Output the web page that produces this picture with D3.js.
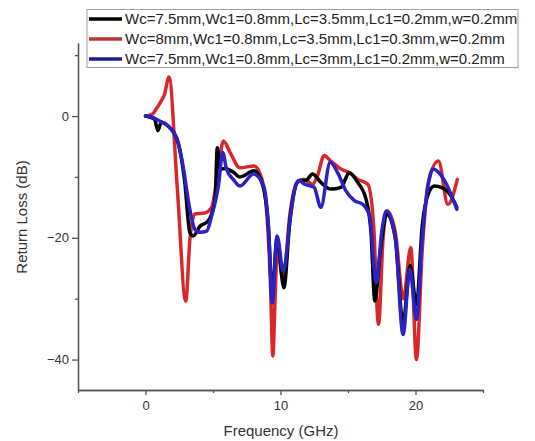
<!doctype html>
<html lang="en">
	<head>
		<meta charset="utf-8">
		<title>Return Loss</title>
		<style type="text/css">
			body {
				margin: 0;
				background-color: white;
				font-family: "Liberation Sans", Arial, Helvetica, sans-serif;
			}
			svg {
				background-color: white;
				display: block;
			}
			path.line {
				fill: none;
				stroke-width: 3.5px;
				stroke-linejoin: round;
				stroke-linecap: round;
			}
			.axis path,
			.axis line {
				fill: none;
				stroke: #555555;
				stroke-width: 1.3px;
			}
			.axis text {
				font-family: "Liberation Sans", Arial, sans-serif;
				font-size: 13px;
				fill: #333333;
			}
			.title {
				font-size: 15px;
				fill: #333333;
			}
			.legend text {
				font-size: 15px;
				fill: #222222;
			}
		</style>
	</head>
	<body>
		<script type="text/javascript" src="https://cdnjs.cloudflare.com/ajax/libs/d3/7.8.5/d3.min.js"></script>
		<script type="text/javascript">
			// series labels
			var labels = [
				"Wc=7.5mm,Wc1=0.8mm,Lc=3.5mm,Lc1=0.2mm,w=0.2mm",
				"Wc=8mm,Wc1=0.8mm,Lc=3.5mm,Lc1=0.3mm,w=0.2mm",
				"Wc=7.5mm,Wc1=0.8mm,Lc=3mm,Lc1=0.2mm,w=0.2mm"
			];

			// black: Wc=7.5mm, Lc=3.5mm
			var blackFreq = [0, 0.67, 0.92, 1.17, 1.79, 2.41, 2.91, 3.28, 3.53, 4.03, 4.65, 5.15, 5.32, 5.52, 5.9, 6.5, 7.0, 8.05, 8.7, 9.1, 9.38, 9.75, 10.25, 10.7, 11.37, 11.87, 12.37, 12.99, 13.73, 14.48, 15.1, 15.72, 16.34, 16.7, 16.99, 17.4, 17.9, 18.5, 19.08, 19.6, 20.07, 20.5, 21.0, 21.4, 22.0, 22.6, 23.06];
			var blackLoss = [0, -0.5, -2.4, -1.0, -1.9, -4.3, -10.9, -19.1, -19.7, -18.1, -17.2, -13.7, -5.2, -8.7, -8.6, -9.2, -10.0, -9.0, -11.5, -18, -29, -20, -28.2, -17, -10.6, -10.6, -9.5, -10.9, -12.0, -11.7, -9.3, -10.9, -13.7, -19, -30.4, -22, -16.2, -20, -34, -24.5, -31, -18, -12.5, -11.5, -11.8, -13, -15];

			// red: Wc=8mm, Lc1=0.3mm
			var redFreq = [0, 0.5, 0.8, 1.17, 1.4, 1.74, 2.36, 2.98, 3.3, 3.66, 4.4, 4.9, 5.4, 5.77, 6.27, 7.0, 8.05, 8.63, 9.0, 9.25, 9.43, 9.6, 9.75, 10.2, 10.7, 11.25, 11.74, 12.37, 12.74, 13.23, 13.73, 14.48, 15.1, 15.72, 16.47, 16.9, 17.26, 17.6, 17.9, 18.5, 19.1, 19.65, 20.07, 20.5, 20.95, 21.7, 22.4, 23.1];
			var redLoss = [0, 0.3, 1.2, 2.5, 3.5, 6.4, -12, -30.4, -20, -16.1, -15.9, -15.0, -8.7, -4.1, -6.0, -8.5, -8.2, -10.4, -16.4, -27, -39.4, -30, -21.9, -27, -16, -10.9, -10.4, -11.2, -9.8, -6.5, -7.4, -8.7, -9.3, -10.4, -11.2, -18, -34.2, -20, -15.6, -19, -30, -21.6, -40, -22, -10.9, -7.4, -14.5, -10.4];

			// blue: Wc=7.5mm, Lc=3mm
			var blueFreq = [0, 0.5, 1.04, 1.66, 2.29, 2.78, 3.28, 3.66, 4.03, 4.53, 4.9, 5.4, 5.72, 6.0, 6.5, 7.0, 8.0, 8.75, 9.13, 9.38, 9.75, 10.2, 10.75, 11.1, 11.37, 11.8, 12.49, 12.99, 13.68, 14.23, 14.85, 15.47, 16.1, 16.6, 17.1, 17.5, 17.84, 18.5, 19.08, 19.58, 20.07, 20.5, 20.8, 21.3, 22.1, 23.06];
			var blueLoss = [0, -0.2, -0.8, -1.6, -3.5, -8.2, -15.3, -18.6, -19.1, -18.9, -16.4, -11.5, -6.0, -8.7, -10.4, -11.5, -9.5, -11.5, -19.1, -30.7, -19.7, -25.5, -16.4, -11.5, -10.6, -11.2, -11.7, -15.0, -7.6, -9.3, -12.3, -13.9, -14.5, -16.4, -27.4, -19, -15.6, -20, -35.9, -25.2, -33.4, -20, -13.5, -8.7, -10.4, -15.3];

			var xMajor = [0, 10, 20];
			var xMinor = [-5, 5, 15, 25];
			var yMajor = [-40, -20, 0];
			var yMinor = [-30, -10, 10];

			var fullwidth = 535;
			var fullheight = 441;

			var xScale = d3.scaleLinear()
								.domain([-5, 25])
								.range([78, 483]);
			var yScale = d3.scaleLinear()
								.domain([-45, 12])
								.range([390, 43]);

			var svg = d3.select("body")
						.append("svg")
						.attr("width", fullwidth)
						.attr("height", fullheight);

			function toPoints(fs, ls) {
				return fs.map(function(f, i) {
					return { freq: f, loss: ls[i] };
				});
			}

			// drawing order: red, black, blue (blue sits on top)
			var dataset = [
				{ name: labels[1], color: "#d8282b", legendColor: "#b83636", values: toPoints(redFreq, redLoss) },
				{ name: labels[0], color: "#000000", legendColor: "#000000", values: toPoints(blackFreq, blackLoss) },
				{ name: labels[2], color: "#2b22c6", legendColor: "#1e1e88", values: toPoints(blueFreq, blueLoss) }
			];

			var line = d3.line()
				.curve(d3.curveMonotoneX)
				.x(function(d) { return xScale(d.freq); })
				.y(function(d) { return yScale(d.loss); });

			svg.selectAll("path.line")
				.data(dataset)
				.enter()
				.append("path")
				.attr("class", "line")
				.attr("stroke", function(d) { return d.color; })
				.attr("d", function(d) { return line(d.values); });

			// axes
			var xAxis = d3.axisBottom(xScale).tickValues(xMajor).tickSize(5).tickSizeOuter(0).tickPadding(6);
			var xAxisMinor = d3.axisBottom(xScale).tickValues(xMinor).tickSize(3).tickSizeOuter(0).tickFormat("");
			var yAxis = d3.axisLeft(yScale).tickValues(yMajor).tickSize(6).tickSizeOuter(0).tickPadding(3);
			var yAxisMinor = d3.axisLeft(yScale).tickValues(yMinor).tickSize(3).tickSizeOuter(0).tickFormat("");

			svg.append("g")
				.attr("class", "x axis")
				.attr("transform", "translate(0,390)")
				.call(xAxis);
			svg.append("g")
				.attr("class", "x axis")
				.attr("transform", "translate(0,390)")
				.call(xAxisMinor);
			svg.append("g")
				.attr("class", "y axis")
				.attr("transform", "translate(78,0)")
				.call(yAxis);
			svg.append("g")
				.attr("class", "y axis")
				.attr("transform", "translate(78,0)")
				.call(yAxisMinor);

			svg.selectAll(".axis text").attr("font-size", null).attr("font-family", null);

			svg.append("text")
				.attr("class", "title")
				.attr("x", 281)
				.attr("y", 436)
				.attr("text-anchor", "middle")
				.text("Frequency (GHz)");
			svg.append("text")
				.attr("class", "title")
				.attr("transform", "translate(27,217) rotate(-90)")
				.attr("text-anchor", "middle")
				.text("Return Loss (dB)");

			// legend
			var legend = svg.append("g").attr("class", "legend");
			legend.append("rect")
				.attr("x", 87)
				.attr("y", 9.5)
				.attr("width", 431)
				.attr("height", 58)
				.attr("fill", "white")
				.attr("stroke", "#a0a0a0")
				.attr("stroke-width", 1);
			var legendOrder = [dataset[1], dataset[0], dataset[2]];
			var rows = legend.selectAll("g.row")
				.data(legendOrder)
				.enter()
				.append("g")
				.attr("class", "row")
				.attr("transform", function(d, i) { return "translate(0," + (19 + i * 20) + ")"; });
			rows.append("line")
				.attr("x1", 89)
				.attr("x2", 122)
				.attr("y1", 0)
				.attr("y2", 0)
				.attr("stroke", function(d) { return d.legendColor; })
				.attr("stroke-width", 3.5);
			rows.append("text")
				.attr("x", 125)
				.attr("y", 5.4)
				.text(function(d) { return d.name; });
		</script>
	</body>
</html>
